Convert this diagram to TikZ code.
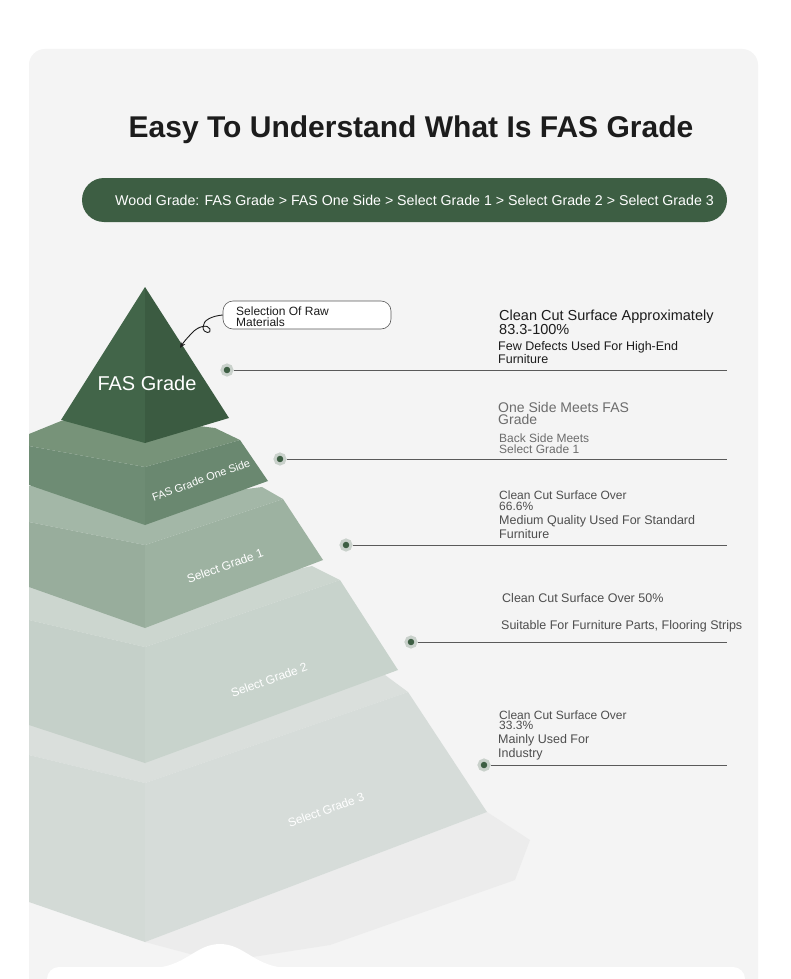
\documentclass[tikz,border=0pt]{standalone}
\usepackage{fontspec}
\setmainfont{Liberation Sans}
\usetikzlibrary{arrows.meta}
\definecolor{cardbg}{HTML}{F4F4F4}
\definecolor{floorshade}{HTML}{ECECEC}
\definecolor{fasgreen}{HTML}{3D5E43}
\definecolor{halo}{HTML}{C9D1CB}
\definecolor{leadgray}{HTML}{5A5A5A}
\definecolor{ink}{HTML}{1C1C1C}
\definecolor{softgray}{HTML}{6C6C6C}
\definecolor{midgray}{HTML}{4E4E4E}
% layer colours: top face, left face, front face
\definecolor{topL}{HTML}{426549}
\definecolor{topR}{HTML}{3B5B41}
\definecolor{oneT}{HTML}{779379}
\definecolor{oneL}{HTML}{6E8C74}
\definecolor{oneF}{HTML}{6A8870}
\definecolor{selaT}{HTML}{A3B7A7}
\definecolor{selaL}{HTML}{98AD9C}
\definecolor{selaF}{HTML}{9DB2A1}
\definecolor{selbT}{HTML}{CCD6CF}
\definecolor{selbL}{HTML}{C5D0C9}
\definecolor{selbF}{HTML}{C8D3CC}
\definecolor{selcT}{HTML}{DADFDC}
\definecolor{selcL}{HTML}{D3DAD6}
\definecolor{selcF}{HTML}{D6DCD9}
\tikzset{
  gradedot/.style={circle, fill=fasgreen, draw=halo, line width=3pt, inner sep=0pt, minimum size=10pt},
  leader/.style={draw=leadgray, line width=0.8pt},
  note/.style={anchor=base west, inner sep=0pt},
  layertext/.style={text=white, rotate=20, inner sep=0pt, font=\fontsize{12}{12}\selectfont},
}
\begin{document}
\begin{tikzpicture}[x=1pt,y=-1pt]
\useasboundingbox (0,0) rectangle (790,979);
\fill[white] (0,0) rectangle (790,979);
% card
\fill[cardbg, rounded corners=16pt] (29,49) rectangle (758,1010);

% title and banner
\node[font=\bfseries\fontsize{30}{30}\selectfont, text=ink] (title) at (411,130) {Easy To Understand What Is FAS Grade};
\node[fill=fasgreen, rounded corners=22pt, minimum width=645pt, minimum height=44pt, inner sep=0pt] (bar) at (404.5,200) {};
\node[text=white, font=\fontsize{14.2}{14.2}\selectfont] (bartext) at ([xshift=10pt]bar.center) {Wood Grade: FAS Grade > FAS One Side > Select Grade 1 > Select Grade 2 > Select Grade 3};

% soft floor shadow under the pyramid
\fill[floorshade] (145,942) -- (487,812) -- (530,840) -- (515,880) -- (330,945) -- (220,962) -- cycle;

% Select Grade 3
\fill[selcT] (29,720) -- (29,755) -- (145,783) -- (408,692) -- (385,675) -- (300,680) -- cycle;
\fill[selcL] (29,755) -- (145,783) -- (145,942) -- (29,902) -- cycle;
\fill[selcF] (145,783) -- (408,692) -- (487,812) -- (145,942) -- cycle;
% Select Grade 2
\fill[selbT] (29,586) -- (29,620) -- (145,647) -- (340,580) -- (312,566) -- (250,580) -- cycle;
\fill[selbL] (29,620) -- (145,647) -- (145,763) -- (29,725) -- cycle;
\fill[selbF] (145,647) -- (340,580) -- (398,670) -- (145,763) -- cycle;
% Select Grade 1
\fill[selaT] (29,486) -- (29,522) -- (145,545) -- (283,499) -- (262,487) -- (200,495) -- cycle;
\fill[selaL] (29,522) -- (145,545) -- (145,628) -- (29,587) -- cycle;
\fill[selaF] (145,545) -- (283,499) -- (323,560) -- (145,628) -- cycle;
% FAS Grade One Side
\fill[oneT] (29,434) -- (29,446) -- (145,467) -- (240,440) -- (215,428) -- (150,420) -- (61,421) -- cycle;
\fill[oneL] (29,446) -- (145,467) -- (145,525) -- (29,485) -- cycle;
\fill[oneF] (145,467) -- (240,440) -- (268,481) -- (145,525) -- cycle;
% FAS Grade
\fill[topL] (145,287) -- (61,420) -- (145,443) -- cycle;
\fill[topR] (145,287) -- (145,443) -- (229,418) -- cycle;

% layer names
\node[text=white, font=\fontsize{20}{20}\selectfont] (fas) at (147,383) {FAS Grade};
\node[layertext, font=\fontsize{11}{11}\selectfont] (oneside) at (201,480) {FAS Grade One Side};
\node[layertext] (sela) at (225,566) {Select Grade 1};
\node[layertext] (selb) at (269,680) {Select Grade 2};
\node[layertext] (selc) at (326,810) {Select Grade 3};

% callout with curly arrow
\node[draw=leadgray, fill=white, rounded corners=10pt, line width=0.6pt, minimum width=168pt, minimum height=28pt] (raw) at (307,315) {};
\node[note, font=\fontsize{12}{12}\selectfont, text=ink] (rawa) at (236,315) {Selection Of Raw};
\node[note, font=\fontsize{12}{12}\selectfont, text=ink] (rawb) at (236,326) {Materials};
\coordinate (rawtip) at (180,348);
\draw[ink, line width=0.9pt, -{Stealth[length=6pt,width=5pt]}] (raw.west) .. controls (212,316) and (203,320) .. (203,327) .. controls (203,334) and (212,334) .. (210,329) .. controls (208,324) and (198,326) .. (192,333) .. controls (187,338) and (183,343) .. (rawtip);

% dots and leader lines
\foreach \n/\x/\y in {1/227/370, 2/280/459, 3/346/545, 4/411/642, 5/484/765} {
  \coordinate (e\n) at (727,\y);
  \node[gradedot] (d\n) at (\x,\y) {};
  \draw[leader] (d\n) -- (e\n);
}

% descriptions
\node[note, font=\fontsize{14.5}{14.5}\selectfont, text=ink] (c1a) at (499,320) {Clean Cut Surface Approximately};
\node[note, font=\fontsize{14.5}{14.5}\selectfont, text=ink] (c1b) at (499,334) {83.3-100\%};
\node[note, font=\fontsize{12.5}{12.5}\selectfont, text=ink] (c1c) at (498,350) {Few Defects Used For High-End};
\node[note, font=\fontsize{12.5}{12.5}\selectfont, text=ink] (c1d) at (498,363) {Furniture};

\node[note, font=\fontsize{14}{14}\selectfont, text=softgray] (c2a) at (498,412) {One Side Meets FAS};
\node[note, font=\fontsize{14}{14}\selectfont, text=softgray] (c2b) at (498,424) {Grade};
\node[note, font=\fontsize{12}{12}\selectfont, text=softgray] (c2c) at (499,442) {Back Side Meets};
\node[note, font=\fontsize{12}{12}\selectfont, text=softgray] (c2d) at (499,453) {Select Grade 1};

\node[note, font=\fontsize{12}{12}\selectfont, text=midgray] (c3a) at (499,499) {Clean Cut Surface Over};
\node[note, font=\fontsize{12}{12}\selectfont, text=midgray] (c3b) at (499,510) {66.6\%};
\node[note, font=\fontsize{12.5}{12.5}\selectfont, text=midgray] (c3c) at (499,524) {Medium Quality Used For Standard};
\node[note, font=\fontsize{12.5}{12.5}\selectfont, text=midgray] (c3d) at (499,538) {Furniture};

\node[note, font=\fontsize{12.5}{12.5}\selectfont, text=midgray] (c4a) at (502,602) {Clean Cut Surface Over 50\%};
\node[note, font=\fontsize{12.5}{12.5}\selectfont, text=midgray] (c4b) at (501,629) {Suitable For Furniture Parts, Flooring Strips};

\node[note, font=\fontsize{12}{12}\selectfont, text=midgray] (c5a) at (499,719) {Clean Cut Surface Over};
\node[note, font=\fontsize{12}{12}\selectfont, text=midgray] (c5b) at (499,729) {33.3\%};
\node[note, font=\fontsize{12.5}{12.5}\selectfont, text=midgray] (c5c) at (498,743) {Mainly Used For};
\node[note, font=\fontsize{12.5}{12.5}\selectfont, text=midgray] (c5d) at (498,757) {Industry};

% next card peeking in at the bottom
\fill[white, rounded corners=12pt] (47,967) rectangle (745,1010);
\fill[white] (150,968) .. controls (185,968) and (195,944) .. (220,944) .. controls (245,944) and (255,968) .. (290,968) -- cycle;
\end{tikzpicture}
\end{document}
